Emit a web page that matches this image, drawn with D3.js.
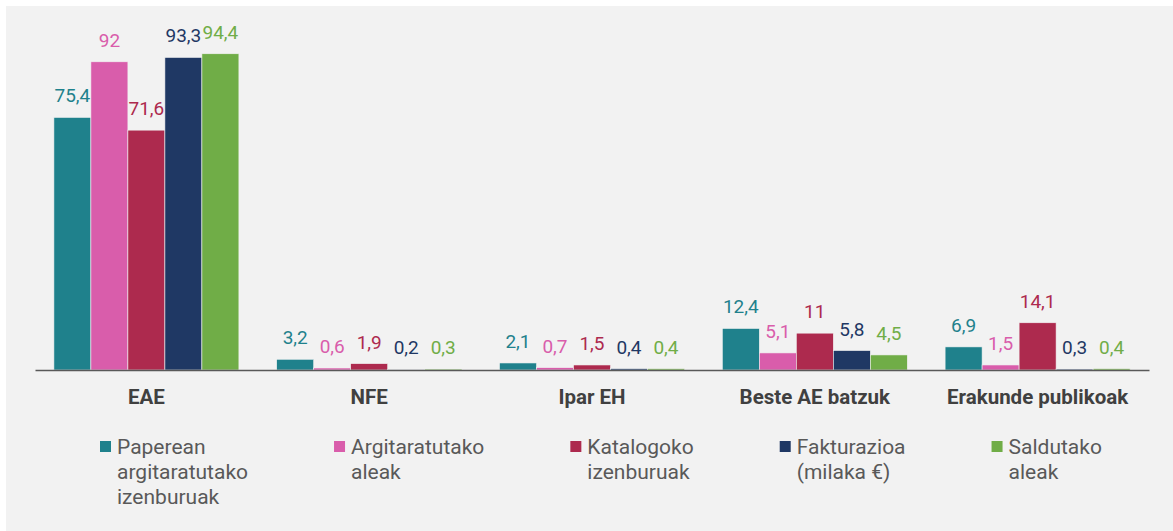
<!DOCTYPE html>
<html>
<head>
<meta charset="utf-8">
<script src="https://cdn.jsdelivr.net/npm/d3@7"></script>
<style>
  body { margin: 0; background: #fff; }
  svg { display: block; font-family: Roboto, "Noto Sans", sans-serif; }
</style>
</head>
<body>
<div id="chart"></div>
<script>
// data
const categories = ['EAE', 'NFE', 'Ipar EH', 'Beste AE batzuk', 'Erakunde publikoak'];
const seriesNames = [
  ['Paperean', 'argitaratutako', 'izenburuak'],
  ['Argitaratutako', 'aleak'],
  ['Katalogoko', 'izenburuak'],
  ['Fakturazioa', '(milaka €)'],
  ['Saldutako', 'aleak']
];
const paperean = [75.4, 3.2, 2.1, 12.4, 6.9];
const aleak = [92, 0.6, 0.7, 5.1, 1.5];
const katalogoko = [71.6, 1.9, 1.5, 11, 14.1];
const fakturazioa = [93.3, 0.2, 0.4, 5.8, 0.3];
const saldutako = [94.4, 0.3, 0.4, 4.5, 0.4];
const series = [paperean, aleak, katalogoko, fakturazioa, saldutako];
const colors = ['#1f818c', '#d95dab', '#ad2a4e', '#1f3864', '#70ad47'];

const width = 1173, height = 531;
const svg = d3.select('#chart').append('svg')
  .attr('width', width)
  .attr('height', height);

// grey panel
svg.append('rect')
  .attr('x', 6).attr('y', 6)
  .attr('width', width - 6).attr('height', height - 6)
  .attr('fill', '#f2f2f2');

const baseY = 370;
const x0 = d3.scaleBand()
  .domain(categories)
  .range([35, 1149]);

// 5 bars of ~37px centred in each group
const innerWidth = 185;
const x1 = d3.scaleBand()
  .domain(d3.range(series.length))
  .range([(x0.bandwidth() - innerWidth) / 2, (x0.bandwidth() + innerWidth) / 2]);

const y = d3.scaleLinear()
  .domain([0, 100])
  .range([baseY, baseY - 335]);

const groups = svg.selectAll('g.group')
  .data(categories)
  .enter()
  .append('g')
  .attr('class', 'group')
  .attr('transform', d => `translate(${x0(d)},0)`);

groups.each(function(cat, ci) {
  const g = d3.select(this);
  const vals = series.map((s, si) => ({ si, v: s[ci] }));

  g.selectAll('rect')
    .data(vals)
    .enter()
    .append('rect')
    .attr('x', d => x1(d.si))
    .attr('y', d => y(d.v))
    .attr('width', x1.bandwidth())
    .attr('height', d => baseY - y(d.v))
    .attr('fill', d => colors[d.si])
    .attr('stroke', '#f2f2f2')
    .attr('stroke-width', 0.6);

  g.selectAll('text.val')
    .data(vals)
    .enter()
    .append('text')
    .attr('class', 'val')
    .attr('x', d => x1(d.si) + x1.bandwidth() / 2)
    .attr('y', d => y(d.v) - 15)
    .attr('text-anchor', 'middle')
    .attr('font-size', 19)
    .attr('fill', d => colors[d.si])
    .text(d => String(d.v).replace('.', ','));
});

// x axis
const xAxis = d3.axisBottom(x0).tickSize(0).tickPadding(19);
const axisG = svg.append('g')
  .attr('transform', `translate(0,${baseY})`)
  .call(xAxis);
axisG.select('.domain')
  .attr('stroke', '#595959')
  .attr('stroke-width', 1.5);
axisG.selectAll('text')
  .attr('font-family', 'Roboto, sans-serif')
  .attr('font-size', 20.5)
  .attr('font-weight', 'bold')
  .attr('fill', '#404040');

// legend
const legend = svg.append('g');
let lx = 100;
seriesNames.forEach((lines, i) => {
  const item = legend.append('g');
  item.append('rect')
    .attr('x', lx).attr('y', 441)
    .attr('width', 11).attr('height', 11)
    .attr('fill', colors[i]);
  const texts = item.selectAll('text')
    .data(lines)
    .enter()
    .append('text')
    .attr('x', lx + 17)
    .attr('y', (d, li) => 454 + li * 25)
    .attr('font-size', 21)
    .attr('fill', '#595959')
    .text(d => d);
  const w = d3.max(texts.nodes(), n => n.getComputedTextLength());
  lx = lx + 17 + w + 86;
});
</script>
</body>
</html>
